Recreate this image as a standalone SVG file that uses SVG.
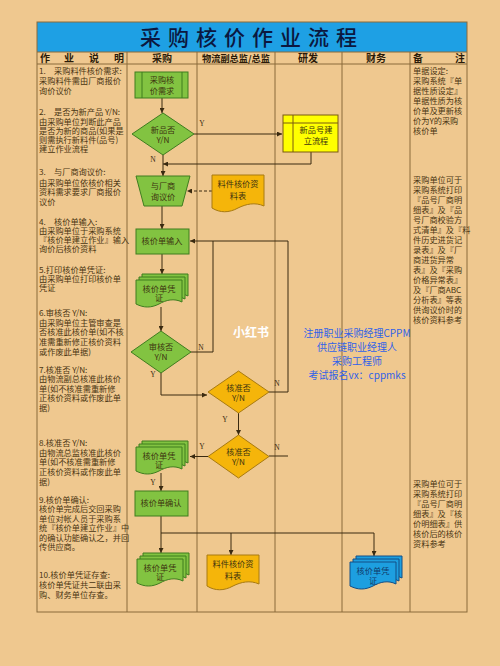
<svg xmlns="http://www.w3.org/2000/svg" width="500" height="666" viewBox="0 0 500 666">
<style>
.t{font-family:"Noto Sans CJK SC","Liberation Sans",sans-serif;font-size:8.2px;fill:#4a3512}
.n{font-family:"Noto Sans CJK SC","Liberation Sans",sans-serif;font-size:8.2px;fill:#3d3410;text-anchor:middle}
.h{font-family:"Noto Sans CJK SC","Liberation Sans",sans-serif;font-size:10px;font-weight:700;fill:#2a1a08}
.lb{font-family:"Liberation Serif",serif;font-size:7.5px;fill:#3a2a10;text-anchor:middle}
.grid{stroke:#8a6a3a;stroke-width:1;fill:none}
.c{stroke:#3a2a10;stroke-width:1;fill:none}
.g{fill:#82c341;stroke:#3f7d1f;stroke-width:1}
.o{fill:#f5b50a;stroke:#a87a10;stroke-width:1}
.y{fill:#ffff00;stroke:#7a5a10;stroke-width:1}
.b{fill:#1d9fe0;stroke:#124e86;stroke-width:1}
.bl{font-family:"Noto Sans CJK SC","Liberation Sans",sans-serif;font-size:10px;fill:#2f62e8;text-anchor:middle}
</style>
<defs>
<marker id="ah" viewBox="0 0 10 10" refX="10" refY="5" markerWidth="5" markerHeight="5" orient="auto"><path d="M0,0 L10,5 L0,10 z" fill="#3a2a10"/></marker>
<path id="doc" d="M0,0 H46 V22 C38,18 30,20 23,24 C15,28 8,28 0,24 Z"/>
</defs>
<rect width="500" height="666" fill="#efc88f"/>
<rect x="37" y="22" width="430" height="30" fill="#1ea0e4"/>
<text x="252" y="45" font-family="Noto Sans CJK SC,sans-serif" font-size="21" font-weight="500" fill="#0b1840" text-anchor="middle" letter-spacing="7">采购核价作业流程</text>
<g class="grid">
<rect x="37" y="22" width="430" height="590"/>
<line x1="37" y1="52" x2="467" y2="52"/>
<line x1="37" y1="64" x2="467" y2="64"/>
<line x1="127" y1="52" x2="127" y2="612"/>
<line x1="197" y1="52" x2="197" y2="612"/>
<line x1="275" y1="52" x2="275" y2="612"/>
<line x1="342" y1="52" x2="342" y2="612"/>
<line x1="410" y1="52" x2="410" y2="612"/>
</g>
<g id="header">
<text class="h" x="40" y="62">作</text><text class="h" x="64" y="62">业</text><text class="h" x="89" y="62">说</text><text class="h" x="114" y="62">明</text>
<text class="h" x="162" y="62" text-anchor="middle">采购</text>
<text class="h" x="236" y="62" text-anchor="middle" style="font-size:9.2px">物流副总监/总监</text>
<text class="h" x="308" y="62" text-anchor="middle">研发</text>
<text class="h" x="376" y="62" text-anchor="middle">财务</text>
<text class="h" x="413" y="62">备</text><text class="h" x="455" y="62">注</text>
</g>
<g id="desc" class="t">
<text x="39" y="74">1.　采购料件核价需求:</text>
<text x="39" y="84">采购料件需由厂商报价</text>
<text x="39" y="94">询价议价</text>
<text x="39" y="115">2.　是否为新产品 Y/N:</text>
<text x="39" y="125">由采购单位判断此产品</text>
<text x="39" y="134">是否为新的商品(如果是</text>
<text x="39" y="143">则需执行新料件(品号)</text>
<text x="39" y="152">建立作业流程</text>
<text x="39" y="175">3.　与厂商询议价:</text>
<text x="39" y="186">由采购单位依核价相关</text>
<text x="39" y="195">资料需求要求厂商报价</text>
<text x="39" y="205">议价</text>
<text x="39" y="225">4.　核价单输入:</text>
<text x="39" y="234">由采购单位于采购系统</text>
<text x="39" y="243">『核价单建立作业』输入</text>
<text x="39" y="252">询价后核价资料</text>
<text x="39" y="273">5.打印核价单凭证:</text>
<text x="39" y="282">由采购单位打印核价单</text>
<text x="39" y="291">凭证</text>
<text x="39" y="316">6.审核否 Y/N:</text>
<text x="39" y="326">由采购单位主管审查是</text>
<text x="39" y="335">否核准此核价单(如不核</text>
<text x="39" y="345">准需重新修正核价资料</text>
<text x="39" y="355">或作废此单据)</text>
<text x="39" y="373">7.核准否 Y/N:</text>
<text x="39" y="382">由物流副总核准此核价</text>
<text x="39" y="392">单(如不核准需重新修</text>
<text x="39" y="401">正核价资料或作废此单</text>
<text x="39" y="411">据)</text>
<text x="39" y="446">8.核准否 Y/N:</text>
<text x="39" y="456">由物流总监核准此核价</text>
<text x="39" y="465">单(如不核准需重新修</text>
<text x="39" y="475">正核价资料或作废此单</text>
<text x="39" y="485">据)</text>
<text x="39" y="503">9.核价单确认:</text>
<text x="39" y="512">核价单完成后交回采购</text>
<text x="39" y="522">单位对帐人员于采购系</text>
<text x="39" y="531">统『核价单建立作业』中</text>
<text x="39" y="541">的确认功能确认之，并回</text>
<text x="39" y="550">传供应商。</text>
<text x="39" y="578">10.核价单凭证存查:</text>
<text x="39" y="588">核价单凭证共二联由采</text>
<text x="39" y="598">购、财务单位存查。</text>
</g>
<g id="notes" class="t">
<text x="413" y="74">单据设定:</text>
<text x="413" y="84">采购系统『单</text>
<text x="413" y="94">据性质设定』</text>
<text x="413" y="104">单据性质为核</text>
<text x="413" y="114">价单及更新核</text>
<text x="413" y="124">价为Y的采购</text>
<text x="413" y="134">核价单</text>
<text x="413" y="183">采购单位可于</text>
<text x="413" y="193">采购系统打印</text>
<text x="413" y="203">『品号厂商明</text>
<text x="413" y="213">细表』及『品</text>
<text x="413" y="223">号厂商校验方</text>
<text x="413" y="233">式清单』及『料</text>
<text x="413" y="243">件历史进货记</text>
<text x="413" y="253">录表』及『厂</text>
<text x="413" y="263">商进货异常</text>
<text x="413" y="273">表』及『采购</text>
<text x="413" y="283">价格异常表』</text>
<text x="413" y="293">及『厂商ABC</text>
<text x="413" y="303">分析表』等表</text>
<text x="413" y="313">供询议价时的</text>
<text x="413" y="323">核价资料参考</text>
<text x="413" y="487">采购单位可于</text>
<text x="413" y="497">采购系统打印</text>
<text x="413" y="507">『品号厂商明</text>
<text x="413" y="517">细表』及『核</text>
<text x="413" y="527">价明细表』供</text>
<text x="413" y="537">核价后的核价</text>
<text x="413" y="547">资料参考</text>
</g>
<g id="connectors">
<path class="c" d="M162,98 V113" marker-end="url(#ah)"/>
<path class="c" d="M194,134 H282" marker-end="url(#ah)"/>
<path class="c" d="M311,152 V164 H163" marker-end="url(#ah)"/>
<path class="c" d="M163,155 V176" marker-end="url(#ah)"/>
<path class="c" d="M212,191 H187" stroke-dasharray="3,2" marker-end="url(#ah)"/>
<path class="c" d="M162,206 V229" marker-end="url(#ah)"/>
<path class="c" d="M162,254 V274" marker-end="url(#ah)"/>
<path class="c" d="M161,307 V331" marker-end="url(#ah)"/>
<path class="c" d="M191,352 H213 V241"/>
<path class="c" d="M269,392 H288 V241 H190" marker-end="url(#ah)"/>
<path class="c" d="M269,456 H288"/>
<path class="c" d="M161,373 V395 H207" marker-end="url(#ah)"/>
<path class="c" d="M238.5,413 V435" marker-end="url(#ah)"/>
<path class="c" d="M208,456.5 H190" marker-end="url(#ah)"/>
<path class="c" d="M161,473 V491" marker-end="url(#ah)"/>
<path class="c" d="M161,516 V553" marker-end="url(#ah)"/>
<path class="c" d="M161,533 H374 V556" marker-end="url(#ah)"/>
<path class="c" d="M231,533 V555" stroke="#6a5a40" marker-end="url(#ah)"/>
<text class="lb" x="202" y="126">Y</text>
<text class="lb" x="153" y="162">N</text>
<text class="lb" x="201" y="350">N</text>
<text class="lb" x="153" y="377">Y</text>
<text class="lb" x="277" y="386">N</text>
<text class="lb" x="225" y="422">Y</text>
<text class="lb" x="277" y="450">N</text>
<text class="lb" x="202" y="449">Y</text>
<text class="lb" x="153" y="485">Y</text>
</g>
<g id="n1">
<rect class="g" x="135" y="72" width="53" height="26"/>
<line class="g" x1="142" y1="72" x2="142" y2="98"/><line class="g" x1="182" y1="72" x2="182" y2="98"/>
<text class="n" x="162" y="83">采购核</text><text class="n" x="162" y="94">价需求</text>
</g>
<g id="n2">
<polygon class="g" points="163,113 194,134 163,155 132,134"/>
<text class="n" x="163" y="133">新品否</text><text class="n" x="163" y="143">Y/N</text>
</g>
<g id="n3">
<rect class="y" x="283" y="115" width="55" height="37"/>
<line class="y" x1="293" y1="115" x2="293" y2="152"/><line class="y" x1="283" y1="123" x2="338" y2="123"/>
<text class="n" x="316" y="133">新品号建</text><text class="n" x="316" y="144">立流程</text>
</g>
<g id="n4">
<polygon class="g" points="136,176 190,176 182,206 144,206"/>
<text class="n" x="163" y="189">与厂商</text><text class="n" x="163" y="200">询议价</text>
</g>
<g id="n5">
<path class="o" d="M212,175 H264 V206 C255,202 246,204 238,208 C229,213 220,213 212,208 Z"/>
<text class="n" x="238" y="187">料件核价资</text><text class="n" x="238" y="199">料表</text>
</g>
<g id="n6">
<rect class="g" x="136" y="229" width="53" height="25"/>
<text class="n" x="162" y="244">核价单输入</text>
</g>
<g id="n7">
<use class="g" href="#doc" x="142" y="274"/><use class="g" href="#doc" x="139" y="277"/><use class="g" href="#doc" x="136" y="280"/>
<text class="n" x="159" y="292">核价单凭</text><text class="n" x="159" y="301">证</text>
</g>
<g id="n8">
<polygon class="g" points="161,331 191,352 161,373 131,352"/>
<text class="n" x="161" y="350">审核否</text><text class="n" x="161" y="360">Y/N</text>
</g>
<g id="n9">
<polygon class="o" points="238.5,371 269,392 238.5,413 208,392"/>
<text class="n" x="238.5" y="391">核准否</text><text class="n" x="238.5" y="401">Y/N</text>
</g>
<g id="n10">
<polygon class="o" points="238.5,435 269,456.5 238.5,478 208,456.5"/>
<text class="n" x="238.5" y="455">核准否</text><text class="n" x="238.5" y="465">Y/N</text>
</g>
<g id="n11">
<use class="g" href="#doc" x="142" y="441"/><use class="g" href="#doc" x="139" y="444"/><use class="g" href="#doc" x="136" y="447"/>
<text class="n" x="159" y="459">核价单凭</text><text class="n" x="159" y="468">证</text>
</g>
<g id="n12">
<rect class="g" x="135" y="491" width="53" height="25"/>
<text class="n" x="161" y="506">核价单确认</text>
</g>
<g id="n13">
<use class="g" href="#doc" x="143" y="553"/><use class="g" href="#doc" x="140" y="556"/><use class="g" href="#doc" x="137" y="559"/>
<text class="n" x="160" y="571">核价单凭</text><text class="n" x="160" y="580">证</text>
</g>
<g id="n14">
<path class="o" d="M207,555 H259 V584 C250,580 241,582 233,586 C224,591 215,591 207,586 Z"/>
<text class="n" x="233" y="567">料件核价资</text><text class="n" x="233" y="579">料表</text>
</g>
<g id="n15">
<use class="b" href="#doc" x="356" y="556"/><use class="b" href="#doc" x="353" y="559"/><use class="b" href="#doc" x="350" y="562"/>
<text class="n" x="373" y="574" style="fill:#103a6a">核价单凭</text><text class="n" x="373" y="584" style="fill:#103a6a">证</text>
</g>
<text x="251" y="337" font-family="Noto Sans CJK SC,sans-serif" font-size="12" font-weight="700" fill="#ffffff" text-anchor="middle">小红书</text>
<g id="ad">
<text class="bl" x="357" y="337">注册职业采购经理CPPM</text>
<text class="bl" x="357" y="351">供应链职业经理人</text>
<text class="bl" x="357" y="365">采购工程师</text>
<text class="bl" x="357" y="379">考试报名vx：cppmks</text>
</g>
</svg>
